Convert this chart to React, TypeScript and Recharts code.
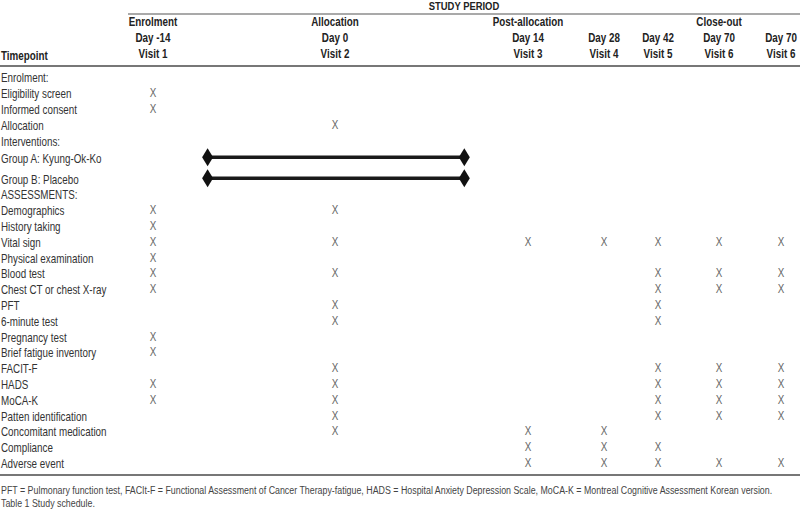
import React from "react";
import { ReferenceLine, Scatter, ScatterChart, XAxis, YAxis } from "recharts";

const FONT = "'Liberation Sans', Arial, sans-serif";
const NARROW = 0.82;

// column headers
const phases = ["Enrolment", "Allocation", "Post-allocation", "", "", "Close-out", ""];
const days = ["Day -14", "Day 0", "Day 14", "Day 28", "Day 42", "Day 70", "Day 70"];
const visits = ["Visit 1", "Visit 2", "Visit 3", "Visit 4", "Visit 5", "Visit 6", "Visit 6"];

const rowLabels = [
  "Enrolment:",
  "Eligibility screen",
  "Informed consent",
  "Allocation",
  "Interventions:",
  "Group A: Kyung-Ok-Ko",
  "Group B: Placebo",
  "ASSESSMENTS:",
  "Demographics",
  "History taking",
  "Vital sign",
  "Physical examination",
  "Blood test",
  "Chest CT or chest X-ray",
  "PFT",
  "6-minute test",
  "Pregnancy test",
  "Brief fatigue inventory",
  "FACIT-F",
  "HADS",
  "MoCA-K",
  "Patten identification",
  "Concomitant medication",
  "Compliance",
  "Adverse event",
];

// rows marked with an X, one list per visit column
const visit1 = [
  "Eligibility screen", "Informed consent", "Demographics", "History taking", "Vital sign",
  "Physical examination", "Blood test", "Chest CT or chest X-ray", "Pregnancy test",
  "Brief fatigue inventory", "HADS", "MoCA-K",
];
const visit2 = [
  "Allocation", "Demographics", "Vital sign", "Blood test", "PFT", "6-minute test", "FACIT-F",
  "HADS", "MoCA-K", "Patten identification", "Concomitant medication",
];
const visit3 = ["Vital sign", "Concomitant medication", "Compliance", "Adverse event"];
const visit4 = ["Vital sign", "Concomitant medication", "Compliance", "Adverse event"];
const visit5 = [
  "Vital sign", "Blood test", "Chest CT or chest X-ray", "PFT", "6-minute test", "FACIT-F", "HADS",
  "MoCA-K", "Patten identification", "Compliance", "Adverse event",
];
const visit6 = [
  "Vital sign", "Blood test", "Chest CT or chest X-ray", "FACIT-F", "HADS", "MoCA-K",
  "Patten identification", "Adverse event",
];
const visit6b = [
  "Vital sign", "Blood test", "Chest CT or chest X-ray", "FACIT-F", "HADS", "MoCA-K",
  "Patten identification", "Adverse event",
];
const visitMarks = [visit1, visit2, visit3, visit4, visit5, visit6, visit6b];

// intervention bars, start/end in column units (0 = Visit 1, 1 = Visit 2, ...)
const interventionRows = ["Group A: Kyung-Ok-Ko", "Group B: Placebo"];
const interventionSpan = [0.3, 1.67];

const footnote =
  "PFT = Pulmonary function test, FACIt-F = Functional Assessment of Cancer Therapy-fatigue, HADS = Hospital Anxiety Depression Scale, MoCA-K = Montreal Cognitive Assessment Korean version.";
const caption = "Table 1 Study schedule.";

// layout
const W = 800;
const H = 510;
const COL_X = [153, 335, 528, 604, 658, 719, 781];
const FIRST_ROW_Y = 77;
const ROW_STEP = 15.8;
const EXTRA_GAP: Record<string, number> = { "Group A: Kyung-Ok-Ko": 1.2, "Group B: Placebo": 5.2 };

const colX = (c: number) => {
  const i = Math.min(Math.floor(c), COL_X.length - 2);
  return COL_X[i] + (c - i) * (COL_X[i + 1] - COL_X[i]);
};

const rowY: Record<string, number> = {};
rowLabels.reduce((y, label, i) => {
  const next = i === 0 ? y : y + ROW_STEP + (EXTRA_GAP[label] ?? 0);
  rowY[label] = next;
  return next;
}, FIRST_ROW_Y);

const marks = visitMarks.flatMap((list, c) => list.map((label) => ({ x: colX(c), y: rowY[label] })));

// condensed text: Liberation Sans squeezed horizontally
const Narrow = ({ x, y, anchor = "start", size = 12, bold = false, fill = "#333", children }: any) => (
  <text
    transform={`translate(${x} ${y}) scale(${NARROW} 1)`}
    textAnchor={anchor}
    dominantBaseline="central"
    fontFamily={FONT}
    fontSize={size}
    fontWeight={bold ? "bold" : "normal"}
    fill={fill}
  >
    {children}
  </text>
);

const XMark = ({ cx, cy }: any) => (
  <Narrow x={cx} y={cy} anchor="middle" fill="#666">
    X
  </Narrow>
);

const Diamond = ({ cx, cy }: any) => (
  <path d={`M${cx - 5.5},${cy} L${cx},${cy - 9} L${cx + 5.5},${cy} L${cx},${cy + 9} Z`} fill="#111" />
);

const HeaderTick = ({ x, index }: any) => (
  <g>
    {phases[index] && (
      <Narrow x={x} y={22} anchor="middle" bold fill="#222">
        {phases[index]}
      </Narrow>
    )}
    <Narrow x={x} y={38} anchor="middle" bold fill="#222">
      {days[index]}
    </Narrow>
    <Narrow x={x} y={54} anchor="middle" bold fill="#222">
      {visits[index]}
    </Narrow>
  </g>
);

const RowTick = ({ index }: any) => {
  const label = rowLabels[index];
  return (
    <Narrow x={1} y={rowY[label] + 1} fill="#333">
      {label}
    </Narrow>
  );
};

export default function App() {
  return (
    <div style={{ position: "absolute", left: 0, top: 0, width: W, height: H, background: "#fff" }}>
      <ScatterChart width={W} height={H} margin={{ top: -1, right: 0, bottom: 0, left: -1 }}>
        <XAxis
          type="number"
          dataKey="x"
          domain={[0, W]}
          orientation="top"
          height={1}
          ticks={COL_X}
          interval={0}
          tick={<HeaderTick />}
          tickLine={false}
          axisLine={false}
          tickSize={0}
          tickMargin={0}
          allowDataOverflow
        />
        <YAxis
          type="number"
          dataKey="y"
          domain={[0, H]}
          reversed
          width={1}
          ticks={rowLabels.map((l) => rowY[l])}
          interval={0}
          tick={<RowTick />}
          tickLine={false}
          axisLine={false}
          tickSize={0}
          tickMargin={0}
          allowDataOverflow
        />
        <ReferenceLine segment={[{ x: 128, y: 14 }, { x: W, y: 14 }]} stroke="#555" strokeWidth={1.2} />
        <ReferenceLine y={66} stroke="#777" strokeWidth={2} />
        <ReferenceLine y={475} stroke="#777" strokeWidth={2} />
        <Scatter data={marks} shape={<XMark />} isAnimationActive={false} />
        {interventionRows.map((label) => (
          <Scatter
            key={label}
            data={interventionSpan.map((c) => ({ x: colX(c), y: rowY[label] }))}
            line={{ stroke: "#1a1a1a", strokeWidth: 3.5 }}
            lineType="joint"
            shape={<Diamond />}
            isAnimationActive={false}
          />
        ))}
      </ScatterChart>
      <svg width={W} height={H} style={{ position: "absolute", left: 0, top: 0, pointerEvents: "none" }}>
        <Narrow x={464} y={6} anchor="middle" size={11.5} bold fill="#222">
          STUDY PERIOD
        </Narrow>
        <Narrow x={1} y={56} bold fill="#222">
          Timepoint
        </Narrow>
        <Narrow x={1} y={490} size={10.8} fill="#444">
          {footnote}
        </Narrow>
        <Narrow x={1} y={503} size={10.8} fill="#444">
          {caption}
        </Narrow>
      </svg>
    </div>
  );
}
